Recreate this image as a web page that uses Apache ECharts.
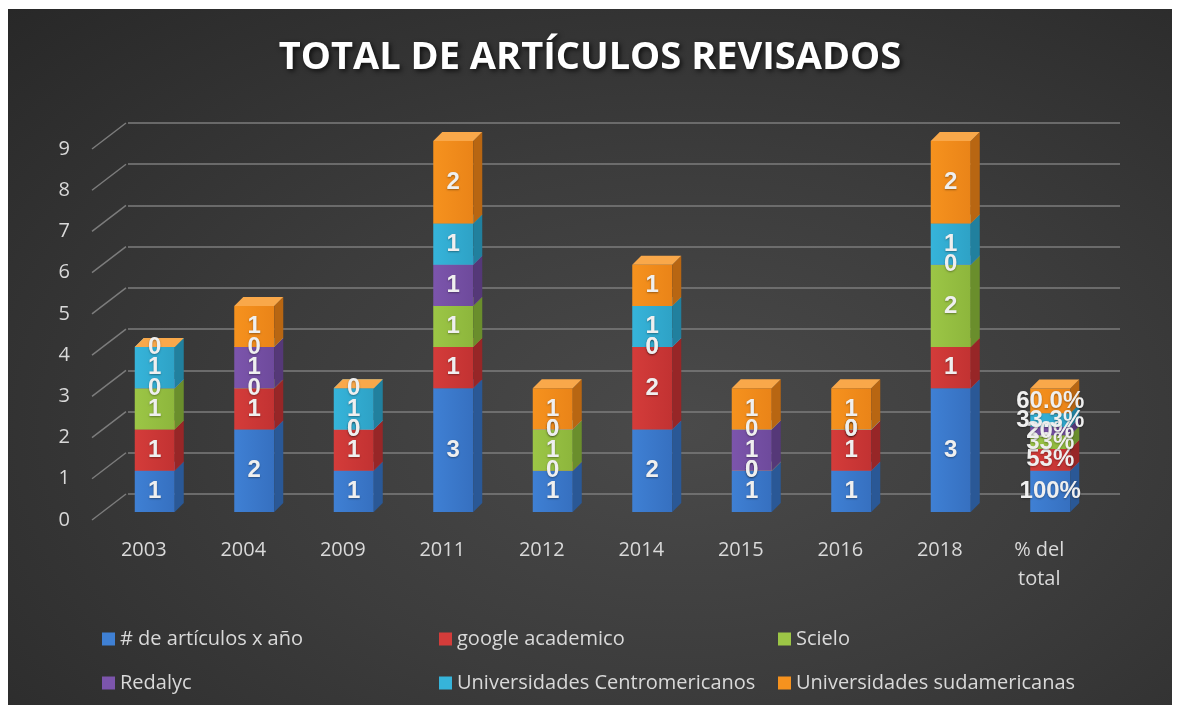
<!DOCTYPE html>
<html>
<head>
<meta charset="utf-8">
<script src="https://cdn.jsdelivr.net/npm/echarts@6/dist/echarts.min.js"></script>
<style>
  html, body { margin: 0; padding: 0; background: #fff; }
  #bg {
    position: absolute; left: 8px; top: 9px; width: 1164px; height: 696px;
    background: radial-gradient(ellipse at 58% 60%, #4a4a4a 0%, #3c3c3c 45%, #282828 100%);
  }
  #main { position: absolute; left: 0; top: 0; width: 1180px; height: 713px; }
</style>
</head>
<body>
<div id="bg"></div>
<div id="main"></div>
<script>
// data
var categories = ['2003', '2004', '2009', '2011', '2012', '2014', '2015', '2016', '2018', '% del\ntotal'];
var yTicks = [0, 1, 2, 3, 4, 5, 6, 7, 8, 9];
var seriesNames = [
  '# de artículos x año', 'google academico', 'Scielo',
  'Redalyc', 'Universidades Centromericanos', 'Universidades sudamericanas'
];
var articulosPorAnio = [1, 2, 1, 3, 1, 2, 1, 1, 3, 1];
var googleAcademico = [1, 1, 1, 1, 0, 2, 0, 1, 1, 0.53];
var scielo = [1, 0, 0, 1, 1, 0, 0, 0, 2, 0.33];
var redalyc = [0, 1, 0, 1, 0, 0, 1, 0, 0, 0.2];
var uniCentro = [1, 0, 1, 1, 0, 1, 0, 0, 1, 0.333];
var uniSud = [0, 1, 0, 2, 1, 1, 1, 1, 2, 0.6];
var percentLabels = ['100%', '53%', '33%', '20%', '33.3%', '60.0%'];

var seriesValues = [articulosPorAnio, googleAcademico, scielo, redalyc, uniCentro, uniSud];

// face colours: front (left->right gradient), side, top
var faces = [
  { front: '#3f80d4', front2: '#3670c0', side: '#2a5896', top: '#5a94dc' },
  { front: '#d43c3a', front2: '#c23232', side: '#972627', top: '#e05a56' },
  { front: '#9cc646', front2: '#8db63c', side: '#6a8e2c', top: '#b0d660' },
  { front: '#7c55ac', front2: '#6e4a9c', side: '#553878', top: '#9470c4' },
  { front: '#36b4da', front2: '#2ea2c6', side: '#21809e', top: '#58c6e6' },
  { front: '#f6921e', front2: '#ea8418', side: '#b86612', top: '#f9a84a' }
];

var BAR_W = 40, SIDE = 9, SHIFT_X = 11, SHIFT_Y = -8;
var DEPTH_X = 34, DEPTH_Y = -26;

function stackBase(s, i) {
  var b = 0;
  for (var k = 0; k < s; k++) b += seriesValues[k][i];
  return b;
}

function makeBar(s) {
  var f = faces[s];
  var grad = new echarts.graphic.LinearGradient(0, 0, 1, 0, [
    { offset: 0, color: f.front }, { offset: 1, color: f.front2 }
  ]);
  return {
    type: 'custom',
    name: seriesNames[s],
    xAxisIndex: 0,
    yAxisIndex: 0,
    itemStyle: { color: f.front },
    encode: { x: 0, y: 1 },
    data: seriesValues[s].map(function (v, i) { return [i, stackBase(s, i), v]; }),
    renderItem: function (params, api) {
      var i = api.value(0), b = api.value(1), v = api.value(2);
      var p0 = api.coord([i, b]);
      var p1 = api.coord([i, b + v]);
      var cx = p0[0] + SHIFT_X, yb = p0[1] + SHIFT_Y, yt = p1[1] + SHIFT_Y;
      var l = cx - BAR_W / 2, r = cx + BAR_W / 2;
      var txt = i === categories.length - 1 ? percentLabels[s] : String(v);
      var kids = [];
      if (yb - yt > 0.5) {
        kids.push({ type: 'rect', shape: { x: l, y: yt, width: BAR_W, height: yb - yt }, style: { fill: grad } });
        kids.push({
          type: 'polygon',
          shape: { points: [[r, yb], [r + SIDE, yb - SIDE], [r + SIDE, yt - SIDE], [r, yt]] },
          style: { fill: f.side }
        });
      }
      kids.push({
        type: 'polygon',
        shape: { points: [[l, yt], [l + SIDE, yt - SIDE], [r + SIDE, yt - SIDE], [r, yt]] },
        style: { fill: f.top }
      });
      kids.push({
        type: 'text', z2: 100,
        style: {
          text: txt, x: cx, y: (yb + yt) / 2, align: 'center', verticalAlign: 'middle',
          fill: '#efefef', font: 'bold 24px "Liberation Sans", Arial, sans-serif',
          textShadowColor: 'rgba(0,0,0,0.35)', textShadowBlur: 2, textShadowOffsetY: 1
        }
      });
      return { type: 'group', children: kids };
    }
  };
}

var chart = echarts.init(document.getElementById('main'));

var series = [{
  type: 'custom',
  silent: true,
  xAxisIndex: 0,
  yAxisIndex: 0,
  encode: { x: 0, y: 1 },
  data: yTicks.map(function (v) { return [0, v]; }),
  renderItem: function (params, api) {
    var p = api.coord([0, api.value(1)]);
    var x0 = params.coordSys.x - 2;
    return {
      type: 'line',
      shape: { x1: x0, y1: p[1], x2: x0 + DEPTH_X, y2: p[1] + DEPTH_Y },
      style: { stroke: '#7c7c7c', lineWidth: 1.5 }
    };
  }
}];
for (var s = 0; s < seriesNames.length; s++) series.push(makeBar(s));

var legendText = { color: '#d9d9d9', fontSize: 20, fontFamily: 'Open Sans', lineHeight: 24 };
function legendCol(left, names) {
  return {
    orient: 'vertical', left: left, top: 622, itemGap: 20,
    itemWidth: 13, itemHeight: 13, selectedMode: false,
    textStyle: legendText,
    data: names.map(function (n) { return { name: n, icon: 'rect' }; })
  };
}

chart.setOption({
  animation: false,
  title: {
    text: 'TOTAL DE ARTÍCULOS REVISADOS',
    left: 'center', top: 34,
    textStyle: {
      color: '#ffffff', fontSize: 38, fontWeight: 'bold', fontFamily: 'Open Sans',
      textShadowColor: 'rgba(0,0,0,0.7)', textShadowBlur: 5, textShadowOffsetX: 2, textShadowOffsetY: 2
    }
  },
  legend: [
    legendCol(97, [seriesNames[0], seriesNames[3]]),
    legendCol(434, [seriesNames[1], seriesNames[4]]),
    legendCol(773, [seriesNames[2], seriesNames[5]])
  ],
  grid: [
    { left: 94, top: 149, width: 995, height: 371 },
    { left: 128, top: 123, width: 992, height: 371 }
  ],
  xAxis: [
    {
      type: 'category', gridIndex: 0, data: categories,
      axisLine: { show: false }, axisTick: { show: false },
      axisLabel: { color: '#d9d9d9', fontSize: 20, fontFamily: 'Open Sans', margin: 16, lineHeight: 29 }
    },
    { type: 'category', gridIndex: 1, data: categories, show: false }
  ],
  yAxis: [
    {
      type: 'value', gridIndex: 0, min: 0, max: 9, interval: 1,
      axisLine: { show: false }, axisTick: { show: false }, splitLine: { show: false },
      axisLabel: { color: '#d9d9d9', fontSize: 20, fontFamily: 'Open Sans', margin: 24 }
    },
    {
      type: 'value', gridIndex: 1, min: 0, max: 9, interval: 1,
      axisLine: { show: false }, axisTick: { show: false }, axisLabel: { show: false },
      splitLine: { lineStyle: { color: '#7c7c7c', width: 1.5 } }
    }
  ],
  series: series
});
</script>
</body>
</html>
